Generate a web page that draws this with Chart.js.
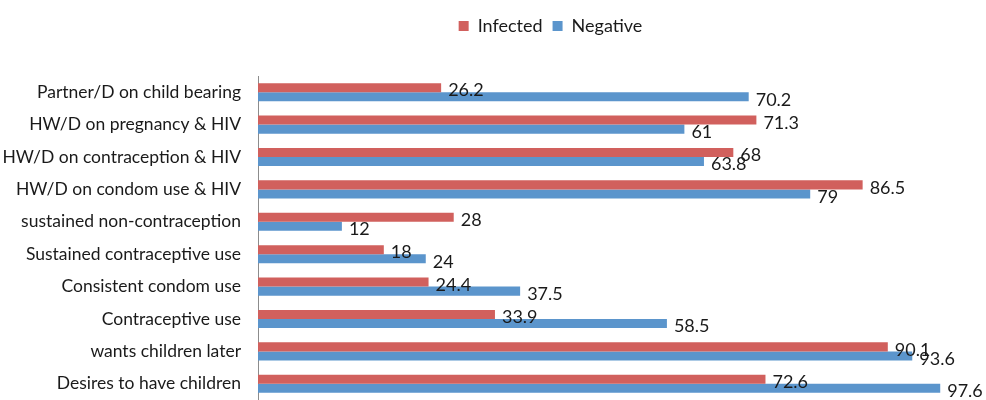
<!DOCTYPE html>
<html>
<head>
<meta charset="utf-8">
<script src="https://cdn.jsdelivr.net/npm/chart.js@4.4.0/dist/chart.umd.min.js"></script>
<style>
  html, body { margin: 0; padding: 0; background: #fff; overflow: hidden; }
  #wrap { width: 986px; height: 400px; }
</style>
</head>
<body>
<div id="wrap"><canvas id="chart" width="986" height="400"></canvas></div>
<script>
const categories = [
  "Partner/D on child bearing",
  "HW/D on pregnancy & HIV",
  "HW/D on contraception & HIV",
  "HW/D on condom use & HIV",
  "sustained non-contraception",
  "Sustained contraceptive use",
  "Consistent condom use",
  "Contraceptive use",
  "wants children later",
  "Desires to have children"
];
const infected = [26.2, 71.3, 68, 86.5, 28, 18, 24.4, 33.9, 90.1, 72.6];
const negative = [70.2, 61, 63.8, 79, 12, 24, 37.5, 58.5, 93.6, 97.6];
const seriesNames = ["Infected", "Negative"];

const FONT = "Lato, 'Liberation Sans', sans-serif";
const TEXT = "#1a1a1a";

// value labels just past the end of each bar
const valueLabels = {
  id: "valueLabels",
  afterDatasetsDraw(chart) {
    const ctx = chart.ctx;
    ctx.save();
    ctx.font = "18px " + FONT;
    ctx.fillStyle = TEXT;
    ctx.textAlign = "left";
    ctx.textBaseline = "middle";
    chart.data.datasets.forEach((ds, i) => {
      chart.getDatasetMeta(i).data.forEach((bar, j) => {
        ctx.fillText(String(ds.data[j]), bar.x + 7, bar.y + 3);
      });
    });
    ctx.restore();
  }
};

// legend sits a bit right of centre and leaves a gap above the plot
const legendTweak = {
  id: "legendTweak",
  beforeInit(chart) {
    const fit = chart.legend.fit;
    chart.legend.fit = function () {
      fit.call(this);
      this.height += 31;
    };
  },
  afterLayout(chart) {
    chart.legend.left += 72;
    chart.legend.right += 72;
  }
};

new Chart(document.getElementById("chart"), {
  type: "bar",
  data: {
    labels: categories,
    datasets: [
      {
        label: seriesNames[0],
        data: infected,
        backgroundColor: "#d1605d",
        barPercentage: 1,
        categoryPercentage: 0.56
      },
      {
        label: seriesNames[1],
        data: negative,
        backgroundColor: "#5b95cc",
        barPercentage: 1,
        categoryPercentage: 0.56
      }
    ]
  },
  options: {
    indexAxis: "y",
    responsive: false,
    animation: false,
    devicePixelRatio: 1,
    layout: { padding: { top: 7, right: 29, left: 0, bottom: 0 } },
    scales: {
      x: { display: false, min: 0, max: 100 },
      y: {
        grid: { display: false, drawTicks: false },
        border: { color: "#8c8c8c", width: 1 },
        ticks: {
          color: TEXT,
          font: { family: FONT, size: 17.5 },
          padding: 17
        },
        afterFit(scale) {
          scale.width = 258;
          scale.paddingTop = 0;
          scale.paddingBottom = 0;
        }
      }
    },
    plugins: {
      legend: {
        position: "top",
        labels: {
          color: TEXT,
          font: { family: FONT, size: 18 },
          boxWidth: 10,
          boxHeight: 10,
          padding: 10
        }
      },
      tooltip: { enabled: false }
    }
  },
  plugins: [valueLabels, legendTweak]
});
</script>
</body>
</html>
